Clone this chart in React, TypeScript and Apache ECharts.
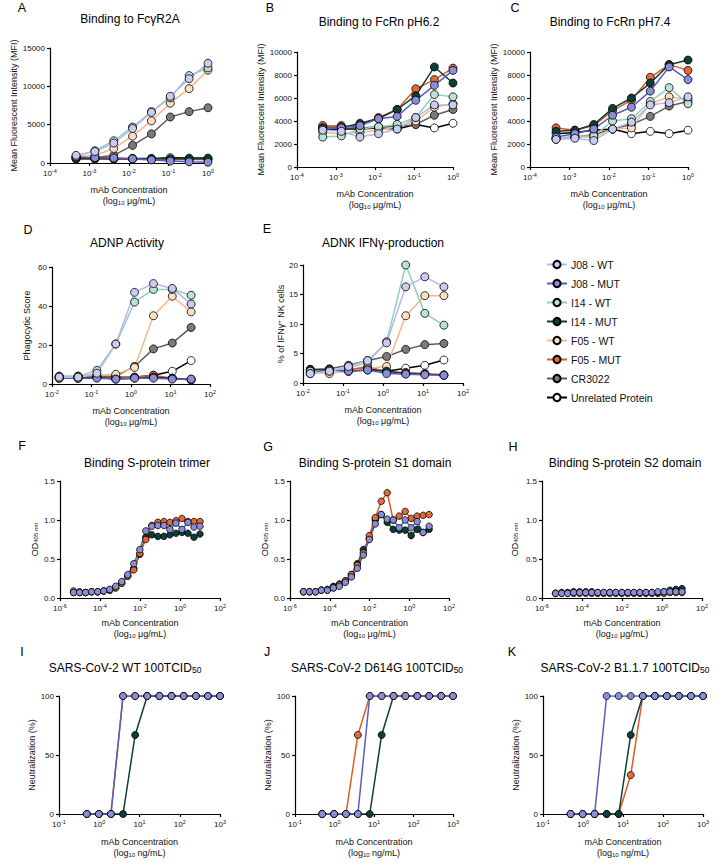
import React, { useEffect, useRef } from "react";
import * as echarts from "echarts";

const FONT = '"Liberation Sans", Arial, Helvetica, sans-serif';

// ---------- series names / styles ----------
const SERIES_NAMES = ["J08 - WT", "J08 - MUT", "I14 - WT", "I14 - MUT", "F05 - WT", "F05 - MUT", "CR3022", "Unrelated Protein"];
const MARKER_COLORS = ["#c9cbf0", "#8a8ed6", "#b9e2d5", "#0c3f37", "#fddfc2", "#e2693a", "#7b7b7b", "#ffffff"];
const LINE_COLORS = ["#b5b8ea", "#565bc6", "#8fd1ba", "#0c3f37", "#f6b88a", "#de5b25", "#5e5e5e", "#000000"];

// ---------- concentrations ----------
const CONC_FC = [0.000457, 0.00137, 0.00412, 0.0123, 0.037, 0.111, 0.333, 1];
const CONC_ADCC = [0.0152, 0.0457, 0.137, 0.412, 1.23, 3.7, 11.1, 33.3];
const CONC_ELISA = [0.00000477, 0.00000954, 0.0000191, 0.0000381, 0.0000763, 0.000153, 0.000305, 0.00061, 0.00122, 0.00244, 0.00488, 0.00977, 0.0195, 0.0391, 0.0781, 0.156, 0.3125, 0.625, 1.25, 2.5, 5, 10];
const CONC_NEUT = [0.49, 0.98, 1.95, 3.9, 7.8, 15.6, 31.25, 62.5, 125, 250, 500, 1000];

// ---------- values (rows follow SERIES_NAMES) ----------
const A_FCGR2A = [
  [1000, 1500, 2600, 4500, 6600, 8700, 11000, 13000],
  [800, 700, 650, 550, 400, 250, 150, 100],
  [900, 1600, 2900, 4700, 6700, 8500, 11400, 12400],
  [600, 600, 550, 550, 550, 550, 550, 550],
  [800, 1000, 1900, 3500, 5500, 7800, 9700, 12100],
  [500, 500, 500, 500, 450, 450, 450, 450],
  [600, 700, 1000, 2300, 3800, 6000, 6700, 7200],
  [700, 700, 600, 600, 600, 700, 650, 650],
];
const B_FCRN62 = [
  [3200, 3100, 2600, 2900, 3300, 4300, 5400, 5400],
  [3300, 3400, 3600, 4200, 4400, 5800, 7100, 8400],
  [2600, 2700, 3300, 3500, 3700, 4300, 6300, 6100],
  [3400, 3400, 3800, 4200, 5000, 6200, 8700, 7300],
  [3000, 2900, 3000, 3200, 3500, 4000, 5200, 5500],
  [3600, 3500, 3700, 4300, 5000, 6800, 7600, 8600],
  [3500, 3600, 3400, 3500, 3500, 3700, 4500, 5000],
  [3200, 3300, 3300, 3400, 3300, 3700, 3400, 3800],
];
const C_FCRN74 = [
  [2400, 2500, 2300, 3300, 3900, 5400, 5600, 6100],
  [2600, 2900, 3300, 4500, 5200, 6600, 8700, 7600],
  [2400, 2700, 2700, 4000, 4200, 5700, 6900, 5500],
  [3100, 3200, 3700, 5100, 6000, 7300, 8900, 9300],
  [2500, 2600, 2600, 3300, 3400, 5500, 6100, 5900],
  [3400, 3200, 3600, 4900, 5800, 7800, 8900, 8400],
  [2500, 2600, 2800, 3300, 3700, 4400, 5300, 5700],
  [2900, 3000, 3200, 3300, 2900, 3100, 2900, 3200],
];
const D_ADNP = [
  [3.5, 3.5, 5.5, 20.5, 47, 51.5, 49, 41],
  [3, 3, 3, 2.5, 3, 3, 2.5, 2.5],
  [4, 4, 7, 20.5, 42, 48.5, 48.5, 45.5],
  [3, 3, 3.5, 2.5, 3, 3.5, 3, 2],
  [4, 4, 4.5, 5, 8.5, 35, 45, 37],
  [3.5, 3.5, 3.5, 3, 3.5, 4.5, 3, 2.5],
  [3.5, 4, 4, 4, 9, 18, 21, 29],
  [3, 3, 3.5, 3.5, 3.5, 4.5, 6.5, 12],
];
const E_ADNK = [
  [1.6, 2.0, 2.8, 3.8, 6.8, 16.3, 18, 16.3],
  [1.6, 2.2, 2.0, 2.2, 1.6, 1.5, 1.4, 1.3],
  [2.0, 2.0, 2.5, 3.5, 7.0, 20, 11.8, 9.8],
  [2.2, 2.3, 2.0, 2.2, 2.0, 1.6, 1.5, 1.3],
  [1.8, 1.6, 2.0, 2.5, 2.8, 11.4, 14.8, 14.8],
  [2.3, 2.3, 2.2, 2.8, 1.9, 1.8, 1.6, 1.4],
  [2.3, 2.4, 3.0, 3.8, 4.5, 5.7, 6.5, 6.7],
  [2.0, 2.1, 2.2, 2.5, 2.0, 2.5, 3.0, 3.9],
];

// rows: J08 - MUT, I14 - MUT, F05 - MUT
const MUT_NAMES = ["J08 - MUT", "I14 - MUT", "F05 - MUT"];
const F_TRIMER = [
  [0.07, 0.07, 0.07, 0.08, 0.08, 0.09, 0.11, 0.15, 0.21, 0.30, 0.44, 0.62, 0.86, 0.92, 0.93, 0.93, 0.88, 0.96, 0.88, 0.97, 0.91, 0.92],
  [0.07, 0.07, 0.07, 0.08, 0.08, 0.09, 0.10, 0.13, 0.19, 0.28, 0.38, 0.56, 0.78, 0.81, 0.79, 0.79, 0.81, 0.83, 0.84, 0.83, 0.78, 0.82],
  [0.09, 0.08, 0.07, 0.08, 0.08, 0.09, 0.10, 0.13, 0.19, 0.28, 0.36, 0.57, 0.75, 0.93, 0.97, 0.98, 0.97, 0.99, 1.02, 0.98, 0.98, 0.98],
];
const G_S1 = [
  [0.08, 0.08, 0.08, 0.10, 0.10, 0.13, 0.15, 0.20, 0.27, 0.38, 0.55, 0.75, 0.95, 1.07, 1.01, 1.00, 0.90, 1.00, 0.90, 0.98, 0.84, 0.92],
  [0.08, 0.08, 0.08, 0.10, 0.11, 0.15, 0.18, 0.22, 0.30, 0.44, 0.62, 0.76, 1.00, 1.07, 0.97, 0.88, 0.87, 0.87, 0.80, 0.88, 0.84, 0.88],
  [0.08, 0.08, 0.08, 0.10, 0.10, 0.13, 0.17, 0.22, 0.30, 0.42, 0.58, 0.80, 1.03, 1.24, 1.35, 1.00, 1.05, 1.11, 1.02, 1.05, 1.06, 1.07],
];
const H_S2 = [
  [0.06, 0.06, 0.06, 0.07, 0.07, 0.07, 0.07, 0.07, 0.07, 0.07, 0.07, 0.07, 0.07, 0.07, 0.07, 0.07, 0.07, 0.08, 0.08, 0.08, 0.08, 0.08],
  [0.06, 0.07, 0.07, 0.08, 0.08, 0.08, 0.08, 0.07, 0.07, 0.07, 0.07, 0.07, 0.07, 0.07, 0.07, 0.07, 0.07, 0.07, 0.08, 0.10, 0.11, 0.12],
  [0.06, 0.06, 0.06, 0.06, 0.06, 0.06, 0.06, 0.06, 0.06, 0.06, 0.06, 0.06, 0.06, 0.06, 0.06, 0.06, 0.06, 0.06, 0.06, 0.07, 0.07, 0.07],
];
const I_WT = [
  [0, 0, 0, 100, 100, 100, 100, 100, 100, 100, 100, 100],
  [0, 0, 0, 0, 67, 100, 100, 100, 100, 100, 100, 100],
  [0, 0, 0, 100, 100, 100, 100, 100, 100, 100, 100, 100],
];
const J_D614G = [
  [0, 0, 0, 0, 100, 100, 100, 100, 100, 100, 100, 100],
  [0, 0, 0, 0, 0, 67, 100, 100, 100, 100, 100, 100],
  [0, 0, 0, 67, 100, 100, 100, 100, 100, 100, 100, 100],
];
const K_B117 = [
  [0, 0, 0, 100, 100, 100, 100, 100, 100, 100, 100, 100],
  [0, 0, 0, 0, 0, 67, 100, 100, 100, 100, 100, 100],
  [0, 0, 0, 0, 0, 33, 100, 100, 100, 100, 100, 100],
];

type Panel = {
  letter: string; lx: number; ly: number;
  title: string; tx: number; ty: number;
  grid: [number, number, number, number];
  xMin: number; xMax: number; xInt: number | null; yMax: number; yInt: number; yDec: number;
  yName: string; yGap: number; xGap: number; unit: string;
  conc: number[]; values: number[][]; names: string[]; order: number[]; sym: number;
};

const ALL_ORDER = [7, 6, 5, 4, 3, 2, 1, 0];
const PANELS: Panel[] = [
  { letter: "A", lx: 22, ly: 8, title: "Binding to Fc\u03b3R2A", tx: 130, ty: 19, grid: [50, 48, 158, 115], xMin: 1e-4, xMax: 1, xInt: null, yMax: 15000, yInt: 5000, yDec: 0, yName: "Mean Fluorescent Intensity (MFI)", yGap: 32, xGap: 21, unit: "\u03bcg/mL", conc: CONC_FC, values: A_FCGR2A, names: SERIES_NAMES, order: ALL_ORDER, sym: 8 },
  { letter: "B", lx: 270, ly: 8, title: "Binding to FcRn pH6.2", tx: 379, ty: 22, grid: [297, 52, 156, 115], xMin: 1e-4, xMax: 1, xInt: null, yMax: 10000, yInt: 2000, yDec: 0, yName: "Mean Fluorescent Intensity (MFI)", yGap: 25, xGap: 21, unit: "\u03bcg/mL", conc: CONC_FC, values: B_FCRN62, names: SERIES_NAMES, order: ALL_ORDER, sym: 8 },
  { letter: "C", lx: 515, ly: 8, title: "Binding to FcRn pH7.4", tx: 610, ty: 22, grid: [530, 52, 158, 115], xMin: 1e-4, xMax: 1, xInt: null, yMax: 10000, yInt: 2000, yDec: 0, yName: "Mean Fluorescent Intensity (MFI)", yGap: 32, xGap: 21, unit: "\u03bcg/mL", conc: CONC_FC, values: C_FCRN74, names: SERIES_NAMES, order: ALL_ORDER, sym: 8 },
  { letter: "D", lx: 28, ly: 230, title: "ADNP Activity", tx: 127, ty: 243, grid: [52, 267, 158, 117], xMin: 1e-2, xMax: 100, xInt: null, yMax: 60, yInt: 20, yDec: 0, yName: "Phagocytic Score", yGap: 21, xGap: 21, unit: "\u03bcg/mL", conc: CONC_ADCC, values: D_ADNP, names: SERIES_NAMES, order: ALL_ORDER, sym: 8 },
  { letter: "E", lx: 267, ly: 229, title: "ADNK IFN\u03b3-production", tx: 383, ty: 243, grid: [303, 265, 160, 118], xMin: 1e-2, xMax: 100, xInt: null, yMax: 20, yInt: 5, yDec: 0, yName: "% of IFN\u03b3{sup|+} NK cells", yGap: 15, xGap: 21, unit: "\u03bcg/mL", conc: CONC_ADCC, values: E_ADNK, names: SERIES_NAMES, order: ALL_ORDER, sym: 8 },
  { letter: "F", lx: 22, ly: 446, title: "Binding S-protein trimer", tx: 147, ty: 463, grid: [60, 481, 160, 117], xMin: 1e-6, xMax: 100, xInt: 2, yMax: 1.5, yInt: 0.5, yDec: 1, yName: "OD{sub|405 nm}", yGap: 21, xGap: 19, unit: "\u03bcg/mL", conc: CONC_ELISA, values: F_TRIMER, names: MUT_NAMES, order: [1, 2, 0], sym: 6.5 },
  { letter: "G", lx: 268, ly: 447, title: "Binding S-protein S1 domain", tx: 375, ty: 463, grid: [290, 481, 159, 117], xMin: 1e-6, xMax: 100, xInt: 2, yMax: 1.5, yInt: 0.5, yDec: 1, yName: "OD{sub|405 nm}", yGap: 21, xGap: 19, unit: "\u03bcg/mL", conc: CONC_ELISA, values: G_S1, names: MUT_NAMES, order: [1, 2, 0], sym: 6.5 },
  { letter: "H", lx: 513, ly: 447, title: "Binding S-protein S2 domain", tx: 625, ty: 463, grid: [542, 481, 160, 117], xMin: 1e-6, xMax: 100, xInt: 2, yMax: 1.5, yInt: 0.5, yDec: 1, yName: "OD{sub|405 nm}", yGap: 23, xGap: 19, unit: "\u03bcg/mL", conc: CONC_ELISA, values: H_S2, names: MUT_NAMES, order: [2, 1, 0], sym: 6.5 },
  { letter: "I", lx: 22, ly: 652, title: "SARS-CoV-2 WT 100TCID{sub|50}", tx: 125, ty: 668, grid: [59, 696, 161, 118], xMin: 0.1, xMax: 1000, xInt: null, yMax: 100, yInt: 50, yDec: 0, yName: "Neutralization (%)", yGap: 22, xGap: 22, unit: "ng/mL", conc: CONC_NEUT, values: I_WT, names: MUT_NAMES, order: [2, 1, 0], sym: 7 },
  { letter: "J", lx: 267, ly: 652, title: "SARS-CoV-2 D614G 100TCID{sub|50}", tx: 377, ty: 668, grid: [295, 696, 158, 118], xMin: 0.1, xMax: 1000, xInt: null, yMax: 100, yInt: 50, yDec: 0, yName: "Neutralization (%)", yGap: 22, xGap: 22, unit: "ng/mL", conc: CONC_NEUT, values: J_D614G, names: MUT_NAMES, order: [1, 2, 0], sym: 7 },
  { letter: "K", lx: 512, ly: 652, title: "SARS-CoV-2 B1.1.7 100TCID{sub|50}", tx: 625, ty: 668, grid: [543, 696, 160, 118], xMin: 0.1, xMax: 1000, xInt: null, yMax: 100, yInt: 50, yDec: 0, yName: "Neutralization (%)", yGap: 21, xGap: 22, unit: "ng/mL", conc: CONC_NEUT, values: K_B117, names: MUT_NAMES, order: [2, 1, 0], sym: 7 },
];

const tickRich = {
  b: { fontSize: 8, fontFamily: FONT, color: "#111", lineHeight: 10 },
  sup: { fontSize: 5.5, fontFamily: FONT, color: "#111", verticalAlign: "top", lineHeight: 6 },
};
const nameRich = {
  n: { fontSize: 9, fontFamily: FONT, color: "#111", lineHeight: 11 },
  s: { fontSize: 6, fontFamily: FONT, color: "#111", verticalAlign: "bottom", lineHeight: 7 },
};
const yNameRich = {
  sub: { fontSize: 6, fontFamily: FONT, color: "#111", verticalAlign: "bottom", lineHeight: 7 },
  sup: { fontSize: 6, fontFamily: FONT, color: "#111", verticalAlign: "top", lineHeight: 7 },
};
const titleRich = {
  sub: { fontSize: 8.5, fontFamily: FONT, fill: "#000", verticalAlign: "bottom", lineHeight: 10 },
};

function powLabel(v: number) {
  const e = Math.round(Math.log10(v));
  return `{b|10}{sup|${e}}`;
}

function buildOption() {
  const grid = PANELS.map((p) => ({ left: p.grid[0], top: p.grid[1], width: p.grid[2], height: p.grid[3] }));
  const axisLineStyle = { color: "#000", width: 1.2 };
  const xAxis = PANELS.map((p, i) => {
    const ax: any = {
      type: "log",
      logBase: 10,
      gridIndex: i,
      min: p.xMin,
      max: p.xMax,
      axisLine: { show: true, onZero: false, lineStyle: axisLineStyle },
      axisTick: { show: true, length: 3, lineStyle: axisLineStyle },
      splitLine: { show: false },
      minorTick: { show: false },
      axisLabel: { formatter: powLabel, margin: 5, rich: tickRich },
      name: `{n|mAb Concentration}\n{n|(log}{s|10}{n| ${p.unit})}`,
      nameLocation: "middle",
      nameGap: p.xGap,
      nameTextStyle: { rich: nameRich, fontFamily: FONT, fontSize: 9, color: "#111" },
    };
    if (p.xInt != null) ax.interval = p.xInt;
    return ax;
  });
  const yAxis = PANELS.map((p, i) => ({
    type: "value",
    gridIndex: i,
    min: 0,
    max: p.yMax,
    interval: p.yInt,
    axisLine: { show: true, onZero: false, lineStyle: axisLineStyle },
    axisTick: { show: true, length: 3, lineStyle: axisLineStyle },
    splitLine: { show: false },
    axisLabel: {
      fontSize: 8, fontFamily: FONT, color: "#111", margin: 5,
      formatter: (v: number) => (p.yDec ? v.toFixed(p.yDec) : String(v)),
    },
    name: p.yName,
    nameLocation: "middle",
    nameGap: p.yGap,
    nameTextStyle: { fontSize: 9, fontFamily: FONT, color: "#111", rich: yNameRich },
  }));

  const series: any[] = [];
  PANELS.forEach((p, i) => {
    p.order.forEach((r) => {
      const name = p.names[r];
      const ci = SERIES_NAMES.indexOf(name);
      series.push({
        type: "line",
        name,
        xAxisIndex: i,
        yAxisIndex: i,
        data: p.conc.map((c, j) => [c, p.values[r][j]]),
        symbol: "circle",
        symbolSize: p.sym,
        showSymbol: true,
        itemStyle: { color: MARKER_COLORS[ci], borderColor: "#000", borderWidth: 0.8 },
        lineStyle: { color: LINE_COLORS[ci], width: 1.5 },
        emphasis: { disabled: true },
      });
    });
  });

  const graphic: any[] = [];
  PANELS.forEach((p) => {
    graphic.push({
      type: "text", x: p.lx, y: p.ly,
      style: { text: p.letter, fontSize: 12.5, fontFamily: FONT, fill: "#000", align: "center", verticalAlign: "middle" },
    });
    graphic.push({
      type: "text", x: p.tx, y: p.ty,
      style: { text: p.title, fontSize: 12, fontFamily: FONT, fill: "#000", align: "center", verticalAlign: "middle", rich: titleRich },
    });
  });

  return {
    animation: false,
    backgroundColor: "#ffffff",
    grid,
    xAxis,
    yAxis,
    series,
    graphic,
    legend: {
      data: SERIES_NAMES,
      orient: "vertical",
      left: 541,
      top: 254,
      itemWidth: 20,
      itemHeight: 9,
      itemGap: 8,
      selectedMode: false,
      textStyle: { fontSize: 10.5, fontFamily: FONT, color: "#111", padding: [0, 0, 0, -1] },
    },
  };
}

export default function App() {
  const ref = useRef<HTMLDivElement>(null);
  useEffect(() => {
    if (!ref.current) return;
    const chart = echarts.init(ref.current, undefined, { renderer: "svg" });
    chart.setOption(buildOption() as any);
    return () => chart.dispose();
  }, []);
  return (
    <div
      ref={ref}
      style={{ position: "absolute", left: 0, top: 0, width: 726, height: 865, background: "#fff" }}
    />
  );
}
